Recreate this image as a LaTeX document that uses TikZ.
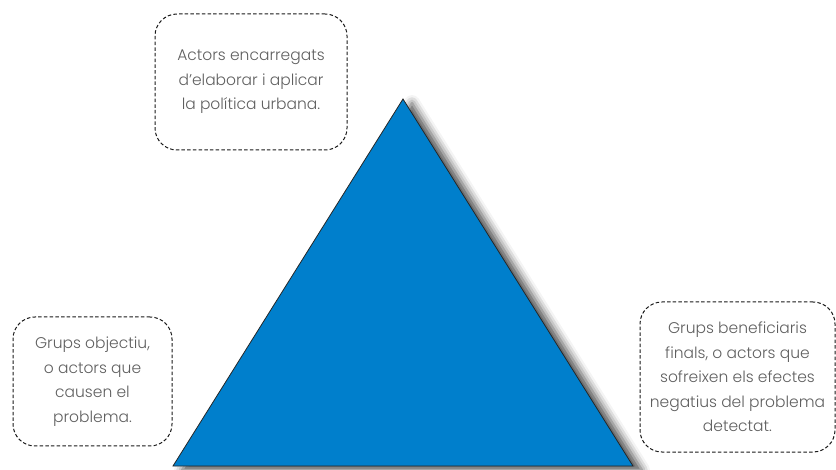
\documentclass[tikz,border=0pt]{standalone}
\usepackage{fontspec}
\setmainfont{Poppins}[UprightFont={* Light}]
\usetikzlibrary{shadows.blur}
\definecolor{triblue}{RGB}{0,127,204}
\definecolor{txtgray}{RGB}{95,95,95}
\tikzset{
  actorbox/.style={draw=black!90, dash pattern=on 3.5pt off 2.2pt, line width=1pt,
    rounded corners=22pt, inner sep=0pt, align=center, text=txtgray,
    font=\fontsize{15.5}{24.5}\selectfont},
  tri/.style={fill=triblue, draw=black!85, line width=0.8pt,
    blur shadow={shadow xshift=9pt, shadow yshift=-4pt, shadow blur radius=8pt, shadow opacity=70}}
}
\begin{document}
\begin{tikzpicture}[x=1pt,y=-1pt]
	\useasboundingbox (0,0) rectangle (836,470);

	\coordinate (apex) at (403,99);
	\coordinate (bl) at (173,466);
	\coordinate (br) at (633,466);
	\path[tri] (apex) -- (br) -- (bl) -- cycle;

	\node[actorbox, minimum width=192pt, minimum height=136pt](urban) at (251,82)
		{Actors encarregats\\d'elaborar i aplicar\\la política urbana.};
	\node[actorbox, minimum width=159pt, minimum height=129pt](target) at (92.5,381.5)
		{Grups objectiu,\\o actors que\\causen el\\problema.};
	\node[actorbox, minimum width=195pt, minimum height=150pt](benef) at (737.5,377)
		{Grups beneficiaris\\finals, o actors que\\sofreixen els efectes\\negatius del problema\\detectat.};
\end{tikzpicture}
\end{document}
